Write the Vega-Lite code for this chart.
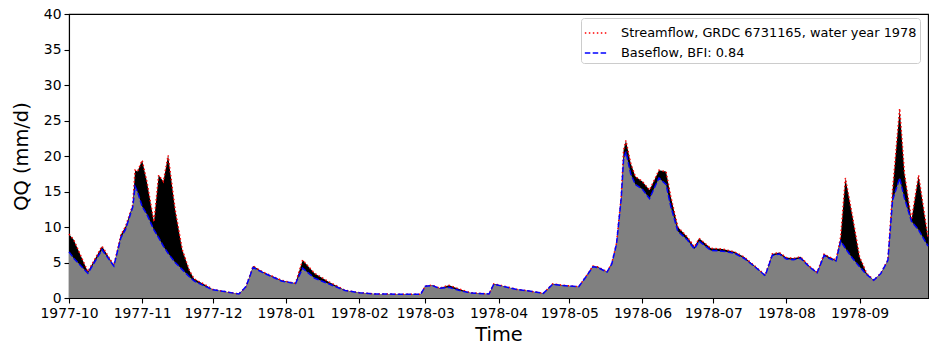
{
  "$schema": "https://vega.github.io/schema/vega-lite/v6.json",
  "width": 859,
  "height": 284,
  "autosize": {"type": "none"},
  "padding": {"left": 69, "top": 14, "right": 8, "bottom": 56},
  "config": {
    "font": "DejaVu Sans",
    "view": {"stroke": "black", "strokeWidth": 1.1},
    "axis": {
      "grid": false,
      "domainColor": "black",
      "domainWidth": 1.1,
      "tickColor": "black",
      "tickWidth": 1.1,
      "tickSize": 5,
      "labelColor": "black",
      "labelFontSize": 13.9,
      "labelFont": "DejaVu Sans",
      "titleColor": "black",
      "titleFont": "DejaVu Sans",
      "titleFontSize": 19.4,
      "titleFontWeight": "normal",
      "labelPadding": 3
    },
    "legend": {
      "labelLimit": 0
    }
  },
  "data": {
    "values": [
      {"d": "1977-10-01", "Q": 9.0, "B": 6.5},
      {"d": "1977-10-03", "Q": 8.2, "B": 5.6},
      {"d": "1977-10-09", "Q": 3.7, "B": 3.5},
      {"d": "1977-10-15", "Q": 7.3, "B": 6.8},
      {"d": "1977-10-20", "Q": 4.6, "B": 4.5},
      {"d": "1977-10-23", "Q": 8.9, "B": 8.5},
      {"d": "1977-10-25", "Q": 10.1, "B": 9.7},
      {"d": "1977-10-28", "Q": 13.1, "B": 12.8},
      {"d": "1977-10-29", "Q": 18.0, "B": 15.7},
      {"d": "1977-10-30", "Q": 17.8, "B": 15.0},
      {"d": "1977-11-01", "Q": 19.4, "B": 12.9},
      {"d": "1977-11-03", "Q": 16.4, "B": 11.8},
      {"d": "1977-11-06", "Q": 10.7, "B": 9.6},
      {"d": "1977-11-08", "Q": 17.3, "B": 8.5},
      {"d": "1977-11-10", "Q": 16.4, "B": 7.3},
      {"d": "1977-11-12", "Q": 20.1, "B": 6.3},
      {"d": "1977-11-15", "Q": 12.4, "B": 5.0},
      {"d": "1977-11-18", "Q": 6.8, "B": 4.0},
      {"d": "1977-11-21", "Q": 3.9, "B": 3.0},
      {"d": "1977-11-23", "Q": 2.7, "B": 2.4},
      {"d": "1977-11-28", "Q": 1.8, "B": 1.6},
      {"d": "1977-12-01", "Q": 1.2, "B": 1.15},
      {"d": "1977-12-06", "Q": 0.9, "B": 0.9},
      {"d": "1977-12-12", "Q": 0.56, "B": 0.56},
      {"d": "1977-12-15", "Q": 1.6, "B": 1.6},
      {"d": "1977-12-18", "Q": 4.5, "B": 4.3},
      {"d": "1977-12-22", "Q": 3.7, "B": 3.6},
      {"d": "1977-12-26", "Q": 3.1, "B": 3.0},
      {"d": "1977-12-30", "Q": 2.5, "B": 2.4},
      {"d": "1978-01-03", "Q": 2.2, "B": 2.15},
      {"d": "1978-01-05", "Q": 2.1, "B": 2.05},
      {"d": "1978-01-08", "Q": 5.35, "B": 4.2},
      {"d": "1978-01-13", "Q": 3.5, "B": 2.8},
      {"d": "1978-01-19", "Q": 2.3, "B": 2.0},
      {"d": "1978-01-26", "Q": 1.1, "B": 1.05},
      {"d": "1978-02-01", "Q": 0.75, "B": 0.75},
      {"d": "1978-02-08", "Q": 0.56, "B": 0.56},
      {"d": "1978-02-27", "Q": 0.52, "B": 0.52},
      {"d": "1978-03-01", "Q": 1.7, "B": 1.65},
      {"d": "1978-03-04", "Q": 1.8, "B": 1.75},
      {"d": "1978-03-07", "Q": 1.4, "B": 1.35},
      {"d": "1978-03-11", "Q": 1.8, "B": 1.5},
      {"d": "1978-03-16", "Q": 1.2, "B": 1.0},
      {"d": "1978-03-20", "Q": 0.75, "B": 0.72},
      {"d": "1978-03-28", "Q": 0.56, "B": 0.56},
      {"d": "1978-03-30", "Q": 2.0, "B": 1.95},
      {"d": "1978-04-03", "Q": 1.7, "B": 1.65},
      {"d": "1978-04-09", "Q": 1.2, "B": 1.18},
      {"d": "1978-04-14", "Q": 1.0, "B": 1.0},
      {"d": "1978-04-20", "Q": 0.65, "B": 0.65},
      {"d": "1978-04-24", "Q": 2.0, "B": 1.95},
      {"d": "1978-04-28", "Q": 1.8, "B": 1.75},
      {"d": "1978-05-05", "Q": 1.6, "B": 1.6},
      {"d": "1978-05-08", "Q": 3.0, "B": 2.95},
      {"d": "1978-05-11", "Q": 4.5, "B": 4.4},
      {"d": "1978-05-13", "Q": 4.4, "B": 4.3},
      {"d": "1978-05-17", "Q": 3.7, "B": 3.65},
      {"d": "1978-05-19", "Q": 4.9, "B": 4.8},
      {"d": "1978-05-21", "Q": 7.7, "B": 7.6},
      {"d": "1978-05-23", "Q": 14.3, "B": 14.0},
      {"d": "1978-05-24", "Q": 20.8, "B": 19.5},
      {"d": "1978-05-25", "Q": 22.2, "B": 20.6},
      {"d": "1978-05-27", "Q": 19.0, "B": 17.5},
      {"d": "1978-05-29", "Q": 17.1, "B": 16.0},
      {"d": "1978-06-01", "Q": 16.4, "B": 15.3},
      {"d": "1978-06-04", "Q": 15.2, "B": 14.0},
      {"d": "1978-06-06", "Q": 16.6, "B": 15.5},
      {"d": "1978-06-08", "Q": 18.0, "B": 16.9},
      {"d": "1978-06-11", "Q": 17.8, "B": 16.0},
      {"d": "1978-06-13", "Q": 14.3, "B": 12.9},
      {"d": "1978-06-16", "Q": 10.0, "B": 9.4},
      {"d": "1978-06-20", "Q": 8.6, "B": 8.2},
      {"d": "1978-06-23", "Q": 7.2, "B": 6.9},
      {"d": "1978-06-25", "Q": 8.4, "B": 8.0},
      {"d": "1978-06-30", "Q": 7.0, "B": 6.7},
      {"d": "1978-07-05", "Q": 6.9, "B": 6.6},
      {"d": "1978-07-10", "Q": 6.5, "B": 6.3},
      {"d": "1978-07-14", "Q": 5.8, "B": 5.6},
      {"d": "1978-07-19", "Q": 4.4, "B": 4.3},
      {"d": "1978-07-23", "Q": 3.2, "B": 3.15},
      {"d": "1978-07-26", "Q": 6.2, "B": 6.0},
      {"d": "1978-07-29", "Q": 6.4, "B": 6.2},
      {"d": "1978-08-01", "Q": 5.7, "B": 5.5},
      {"d": "1978-08-04", "Q": 5.6, "B": 5.4},
      {"d": "1978-08-07", "Q": 5.8, "B": 5.6},
      {"d": "1978-08-11", "Q": 4.4, "B": 4.3},
      {"d": "1978-08-14", "Q": 3.6, "B": 3.55},
      {"d": "1978-08-17", "Q": 6.2, "B": 6.0},
      {"d": "1978-08-19", "Q": 5.8, "B": 5.6},
      {"d": "1978-08-22", "Q": 5.35, "B": 5.2},
      {"d": "1978-08-24", "Q": 8.6, "B": 8.0},
      {"d": "1978-08-26", "Q": 16.9, "B": 7.0},
      {"d": "1978-08-29", "Q": 11.5, "B": 5.6},
      {"d": "1978-09-01", "Q": 5.8, "B": 4.4},
      {"d": "1978-09-04", "Q": 3.5, "B": 3.3},
      {"d": "1978-09-07", "Q": 2.5, "B": 2.5},
      {"d": "1978-09-10", "Q": 3.5, "B": 3.45},
      {"d": "1978-09-13", "Q": 5.35, "B": 5.3},
      {"d": "1978-09-15", "Q": 15.2, "B": 13.8},
      {"d": "1978-09-18", "Q": 26.7, "B": 16.9},
      {"d": "1978-09-20", "Q": 17.6, "B": 14.1},
      {"d": "1978-09-23", "Q": 11.0, "B": 10.8},
      {"d": "1978-09-26", "Q": 17.3, "B": 9.6},
      {"d": "1978-09-30", "Q": 8.5, "B": 7.3}
    ]
  },
  "encoding": {
    "x": {
      "field": "d",
      "type": "temporal",
      "scale": {
        "type": "utc",
        "domain": [
          {"year": 1977, "month": 10, "date": 1, "utc": true},
          {"year": 1978, "month": 9, "date": 30, "utc": true}
        ]
      },
      "axis": {
        "format": "%Y-%m",
        "tickCount": {"interval": "month", "step": 1},
        "labelFlush": false,
        "labelOverlap": false,
        "title": "Time",
        "titlePadding": 6
      }
    }
  },
  "layer": [
    {
      "mark": {"type": "area", "color": "black", "interpolate": "linear"},
      "encoding": {
        "y": {
          "field": "Q",
          "type": "quantitative",
          "scale": {"domain": [0, 40]},
          "axis": {
            "values": [0, 5, 10, 15, 20, 25, 30, 35, 40],
            "title": "QQ (mm/d)",
            "titlePadding": 12
          }
        }
      }
    },
    {
      "mark": {"type": "area", "color": "#808080", "interpolate": "linear"},
      "encoding": {
        "y": {
          "field": "B",
          "type": "quantitative",
          "scale": {"domain": [0, 40]},
          "axis": {
            "values": [0, 5, 10, 15, 20, 25, 30, 35, 40],
            "title": "QQ (mm/d)",
            "titlePadding": 12
          }
        }
      }
    },
    {
      "transform": [{"fold": ["Q", "B"], "as": ["series", "value"]}],
      "mark": {"type": "line", "strokeWidth": 1.5, "interpolate": "linear"},
      "encoding": {
        "y": {
          "field": "value",
          "type": "quantitative",
          "scale": {"domain": [0, 40]},
          "axis": {
            "values": [0, 5, 10, 15, 20, 25, 30, 35, 40],
            "title": "QQ (mm/d)",
            "titlePadding": 12
          }
        },
        "color": {
          "field": "series",
          "type": "nominal",
          "scale": {"domain": ["Q", "B"], "range": ["#ff0000", "#0000ff"]},
          "legend": {
            "title": null,
            "orient": "none",
            "legendX": 512,
            "legendY": 4,
            "labelExpr": "datum.value == 'Q' ? 'Streamflow, GRDC 6731165, water year 1978' : 'Baseflow, BFI: 0.84'",
            "labelFontSize": 12.9,
            "labelFont": "DejaVu Sans",
            "labelColor": "black",
            "labelLimit": 0,
            "symbolType": "stroke",
            "symbolSize": 500,
            "symbolStrokeWidth": 1.5,
            "fillColor": "rgba(255,255,255,0.8)",
            "strokeColor": "#cccccc",
            "cornerRadius": 3,
            "padding": 3,
            "rowPadding": 1,
            "labelOffset": 13
          }
        },
        "strokeDash": {
          "field": "series",
          "type": "nominal",
          "scale": {"domain": ["Q", "B"], "range": [[1.5, 2.5], [5.5, 2.4]]},
          "legend": {
            "title": null,
            "orient": "none",
            "legendX": 512,
            "legendY": 4,
            "labelExpr": "datum.value == 'Q' ? 'Streamflow, GRDC 6731165, water year 1978' : 'Baseflow, BFI: 0.84'",
            "labelFontSize": 12.9,
            "labelFont": "DejaVu Sans",
            "labelColor": "black",
            "labelLimit": 0,
            "symbolType": "stroke",
            "symbolSize": 500,
            "symbolStrokeWidth": 1.5,
            "fillColor": "rgba(255,255,255,0.8)",
            "strokeColor": "#cccccc",
            "cornerRadius": 3,
            "padding": 3,
            "rowPadding": 1,
            "labelOffset": 13
          }
        }
      }
    }
  ]
}
